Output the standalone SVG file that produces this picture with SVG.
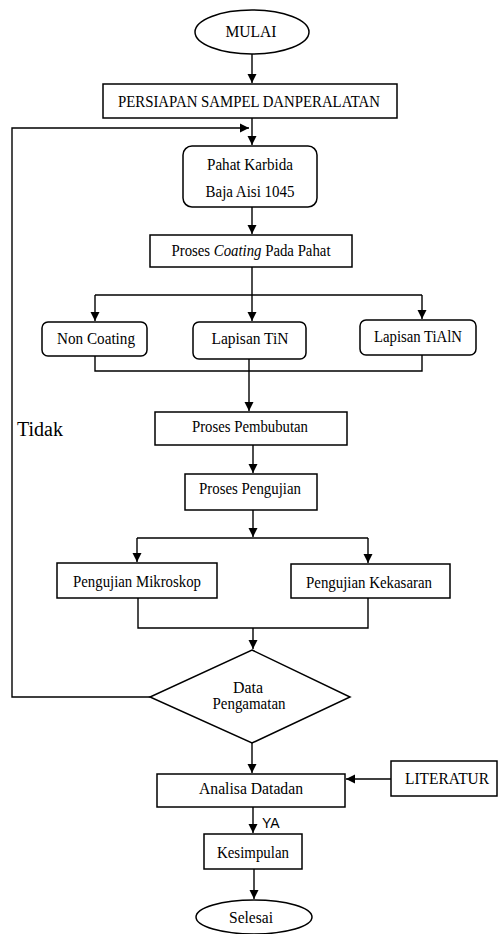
<svg xmlns="http://www.w3.org/2000/svg" width="500" height="934" viewBox="0 0 500 934">
<defs>
<marker id="ah" markerWidth="10" markerHeight="10" refX="9" refY="5" orient="auto" markerUnits="userSpaceOnUse">
<path d="M0,0.5 L9,5 L0,9.5 z" fill="#000"/>
</marker>
<style>
.box{fill:#fff;stroke:#000;stroke-width:1.5}
.t{font-family:'Liberation Serif','Times New Roman',serif;font-size:16px;fill:#000;text-anchor:middle}
.c{fill:none;stroke:#000;stroke-width:1.4}
.a{fill:none;stroke:#000;stroke-width:1.4;marker-end:url(#ah)}
</style>
</defs>
<rect width="500" height="934" fill="#fff"/>
<g id="connectors">
<path class="a" d="M252,54 V83"/>
<path class="a" d="M252,118 V145"/>
<path class="a" d="M150,697 H12 V128 H249"/>
<path class="a" d="M252,207 V234"/>
<path class="a" d="M252,267 V321"/>
<path class="c" d="M95,295 H422"/>
<path class="a" d="M95,295 V321"/>
<path class="a" d="M422,295 V319"/>
<path class="c" d="M95,356 V371 H422 V355"/>
<path class="a" d="M249,359 V411"/>
<path class="a" d="M253,445 V473"/>
<path class="a" d="M253,510 V537"/>
<path class="c" d="M137,538 H368"/>
<path class="a" d="M137,538 V562"/>
<path class="a" d="M368,538 V563"/>
<path class="c" d="M138,598 V628 H368 V598"/>
<path class="a" d="M253,628 V649"/>
<path class="a" d="M252,743 V773"/>
<path class="a" d="M391,779 H346"/>
<path class="a" d="M253,807 V833"/>
<path class="a" d="M254,869 V899"/>
</g>
<g id="mulai">
<ellipse class="box" cx="252" cy="32" rx="57" ry="22"/>
<text class="t" x="251" y="37" textLength="51" lengthAdjust="spacingAndGlyphs">MULAI</text>
</g>
<g id="persiapan">
<rect class="box" x="103" y="84" width="294" height="34"/>
<text class="t" x="249" y="107" textLength="262" lengthAdjust="spacingAndGlyphs">PERSIAPAN SAMPEL DANPERALATAN</text>
</g>
<g id="pahat">
<rect class="box" x="183" y="146" width="134" height="61" rx="9"/>
<text class="t" x="250" y="170" textLength="86" lengthAdjust="spacingAndGlyphs">Pahat Karbida</text>
<text class="t" x="250" y="197" textLength="89" lengthAdjust="spacingAndGlyphs">Baja Aisi 1045</text>
</g>
<g id="coating">
<rect class="box" x="150" y="235" width="202" height="32"/>
<text class="t" x="251" y="256" textLength="159" lengthAdjust="spacingAndGlyphs">Proses <tspan font-style="italic">Coating</tspan> Pada Pahat</text>
</g>
<g id="noncoating">
<rect class="box" x="42" y="322" width="105" height="34" rx="6"/>
<text class="t" x="96" y="344" textLength="78" lengthAdjust="spacingAndGlyphs">Non Coating</text>
</g>
<g id="tin">
<rect class="box" x="193" y="322" width="113" height="37" rx="6"/>
<text class="t" x="250" y="344" textLength="77" lengthAdjust="spacingAndGlyphs">Lapisan TiN</text>
</g>
<g id="tialn">
<rect class="box" x="360" y="320" width="116" height="35" rx="6"/>
<text class="t" x="418" y="342" textLength="88" lengthAdjust="spacingAndGlyphs">Lapisan TiAlN</text>
</g>
<g id="tidak">
<text x="17" y="436" style="font-family:'Liberation Serif','Times New Roman',serif;font-size:20px;fill:#000">Tidak</text>
</g>
<g id="pembubutan">
<rect class="box" x="155" y="412" width="192" height="33"/>
<text class="t" x="250" y="432" textLength="116" lengthAdjust="spacingAndGlyphs">Proses Pembubutan</text>
</g>
<g id="pengujian">
<rect class="box" x="185" y="474" width="132" height="36"/>
<text class="t" x="250" y="494" textLength="102" lengthAdjust="spacingAndGlyphs">Proses Pengujian</text>
</g>
<g id="mikroskop">
<rect class="box" x="57" y="563" width="160" height="35"/>
<text class="t" x="137" y="587" textLength="128" lengthAdjust="spacingAndGlyphs">Pengujian Mikroskop</text>
</g>
<g id="kekasaran">
<rect class="box" x="291" y="564" width="159" height="34"/>
<text class="t" x="369" y="588" textLength="126" lengthAdjust="spacingAndGlyphs">Pengujian Kekasaran</text>
</g>
<g id="data">
<polygon class="box" points="252,650 350,697 252,743 150,697"/>
<text class="t" x="248" y="693" textLength="30" lengthAdjust="spacingAndGlyphs">Data</text>
<text class="t" x="249" y="709" textLength="73" lengthAdjust="spacingAndGlyphs">Pengamatan</text>
</g>
<g id="analisa">
<rect class="box" x="157" y="774" width="188" height="33"/>
<text class="t" x="251" y="794" textLength="104" lengthAdjust="spacingAndGlyphs">Analisa Datadan</text>
</g>
<g id="literatur">
<rect class="box" x="391" y="761" width="106" height="35"/>
<text class="t" x="447" y="784" textLength="84" lengthAdjust="spacingAndGlyphs">LITERATUR</text>
</g>
<g id="ya">
<text x="262" y="828" style="font-family:'Liberation Sans',Arial,sans-serif;font-size:14px;fill:#000">YA</text>
</g>
<g id="kesimpulan">
<rect class="box" x="204" y="834" width="98" height="35"/>
<text class="t" x="253" y="858" textLength="72" lengthAdjust="spacingAndGlyphs">Kesimpulan</text>
</g>
<g id="selesai">
<ellipse class="box" cx="254" cy="917" rx="58" ry="17"/>
<text class="t" x="251" y="923" textLength="44" lengthAdjust="spacingAndGlyphs">Selesai</text>
</g>
</svg>
